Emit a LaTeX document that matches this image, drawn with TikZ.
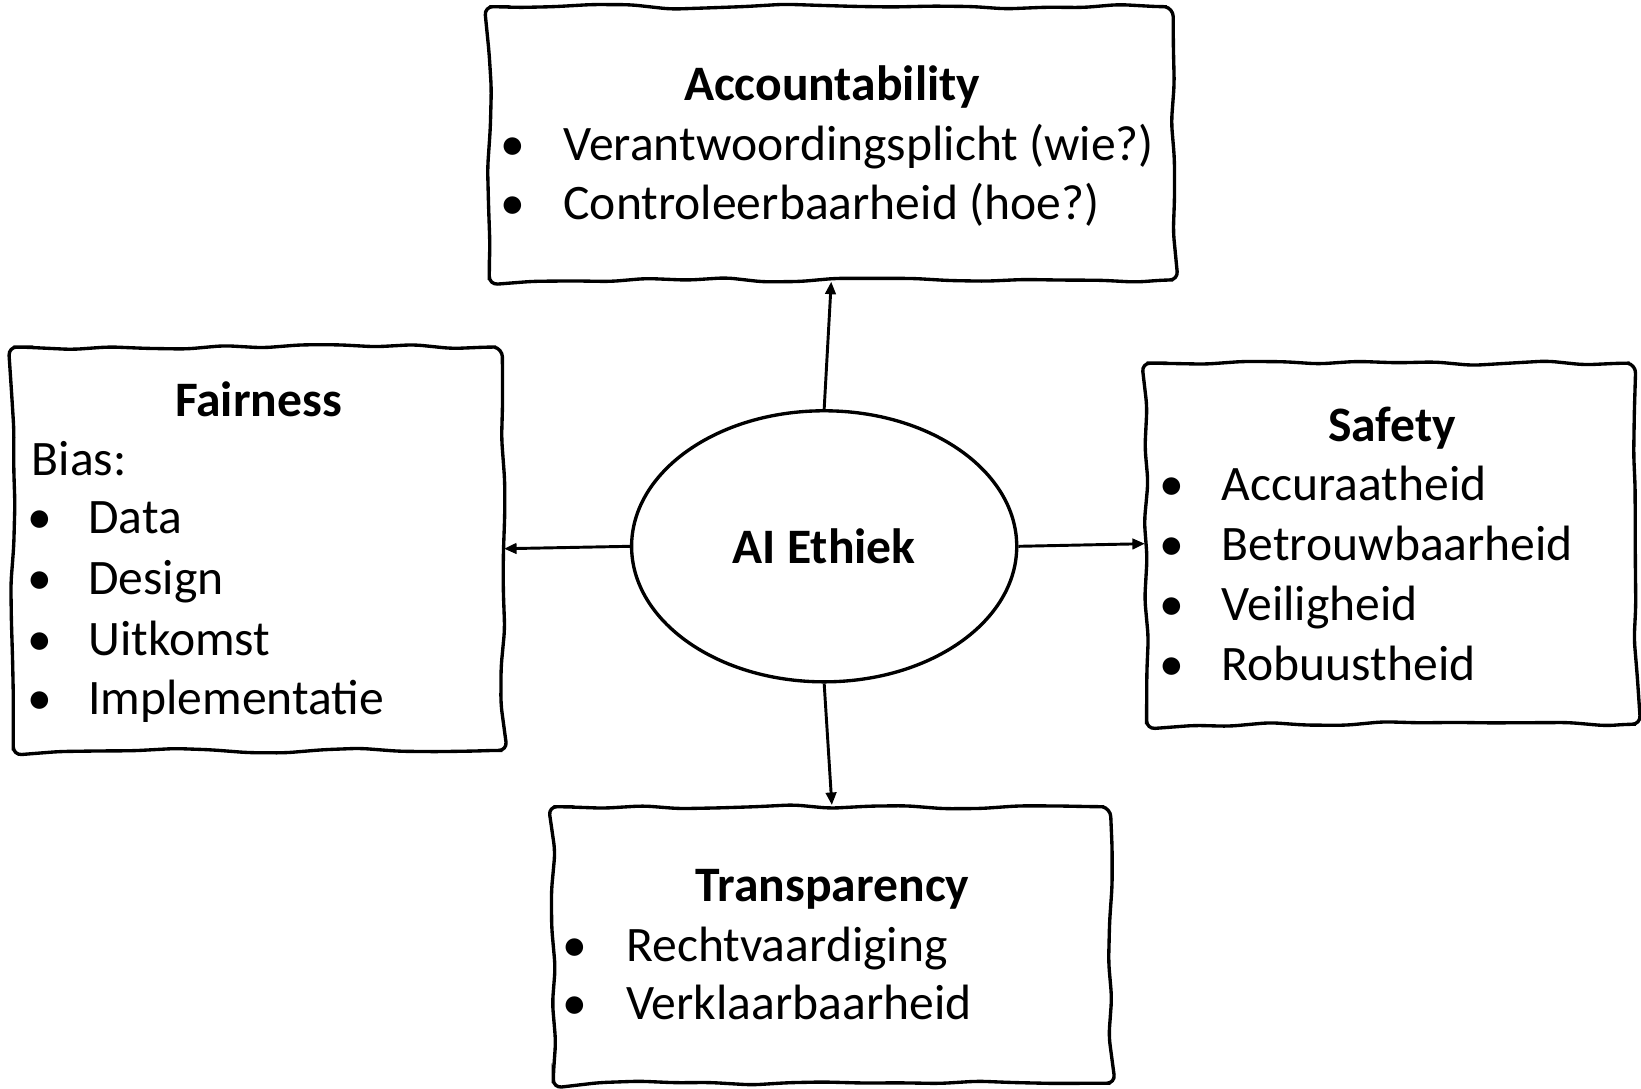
\documentclass[tikz,border=0pt]{standalone}
\usepackage{fontspec}
\setmainfont{Carlito}
\usetikzlibrary{arrows.meta, shapes.geometric, decorations.pathmorphing}
\tikzset{
  card/.style={draw, line width=1.6pt, inner sep=0pt, rounded corners=4pt, decorate, decoration={random steps, segment length=18pt, amplitude=1.2pt, pre length=3pt, post length=3pt}},
  head/.style={font=\bfseries, anchor=base, inner sep=0pt},
  entry/.style={anchor=base west, inner sep=0pt},
  dot/.style={anchor=base, inner sep=0pt},
  link/.style={-{Triangle[length=6pt,width=5pt]}, line width=1.4pt}
}
\pgfmathsetseed{4711}

\begin{document}
\fontsize{23.7}{28}\selectfont
\begin{tikzpicture}[x=0.5pt, y=-0.5pt]
        \useasboundingbox (0,0) rectangle (1568,1040);

        % Boxes
        \node[card, minimum width=326.75pt, minimum height=130.55pt] (acc) at (794.25,136.95) {};
        \node[card, minimum width=233.65pt, minimum height=192.7pt] (fair) at (246.35,524.3) {};
        \node[card, minimum width=233.7pt, minimum height=172.5pt] (safe) at (1329.3,519.5) {};
        \node[card, minimum width=266.15pt, minimum height=132.1pt] (trans) at (794.85,902.9) {};

        % Centre
        \node[ellipse, draw, line width=1.6pt, minimum width=184pt, minimum height=129.5pt, inner sep=0pt, font=\bfseries] (core) at (787.5,522) {AI Ethiek};

        % Accountability
        \node[head] (acc-head) at (795,95.6) {Accountability};
        \node[dot] (acc-d1) at (490.5,152.9) {•};
        \node[entry] (acc-i1) at (538,152.9) {Verantwoordingsplicht (wie?)};
        \node[dot] (acc-d2) at (490.5,210) {•};
        \node[entry] (acc-i2) at (538,210) {Controleerbaarheid (hoe?)};

        % Fairness
        \node[head] (fair-head) at (247,397.5) {Fairness};
        \node[entry] (fair-bias) at (30,454) {Bias:};
        \node[dot] (fair-d1) at (38,510) {•};
        \node[entry] (fair-i1) at (84,510) {Data};
        \node[dot] (fair-d2) at (38,568) {•};
        \node[entry] (fair-i2) at (84,568) {Design};
        \node[dot] (fair-d3) at (38,626) {•};
        \node[entry] (fair-i3) at (84,626) {Uitkomst};
        \node[dot] (fair-d4) at (38,683) {•};
        \node[entry] (fair-i4) at (84,683) {Implementatie};

        % Safety
        \node[head] (safe-head) at (1330,422) {Safety};
        \node[dot] (safe-d1) at (1119.5,478) {•};
        \node[entry] (safe-i1) at (1167,478) {Accuraatheid};
        \node[dot] (safe-d2) at (1119.5,535.5) {•};
        \node[entry] (safe-i2) at (1167,535.5) {Betrouwbaarheid};
        \node[dot] (safe-d3) at (1119.5,593) {•};
        \node[entry] (safe-i3) at (1167,593) {Veiligheid};
        \node[dot] (safe-d4) at (1119.5,650.5) {•};
        \node[entry] (safe-i4) at (1167,650.5) {Robuustheid};

        % Transparency
        \node[head] (trans-head) at (795.5,861.5) {Transparency};
        \node[dot] (trans-d1) at (549.4,918.9) {•};
        \node[entry] (trans-i1) at (598,918.9) {Rechtvaardiging};
        \node[dot] (trans-d2) at (549.4,974.6) {•};
        \node[entry] (trans-i2) at (598,974.6) {Verklaarbaarheid};

        % Links
        \draw[link] (core.north) -- (acc.south);
        \draw[link] (core.west) -- (fair.east);
        \draw[link] (core.east) -- (safe.west);
        \draw[link] (core.south) -- (trans.north);

    \end{tikzpicture}
\end{document}
